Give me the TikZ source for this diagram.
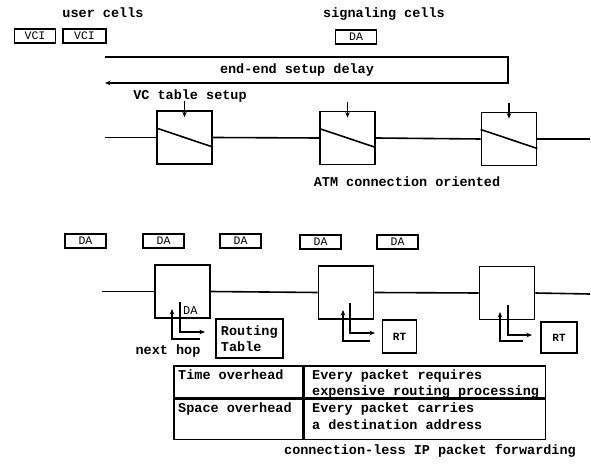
\documentclass[tikz,border=0pt]{standalone}
\usepackage{fontspec}
\setmonofont{Liberation Mono}
\usetikzlibrary{arrows.meta,calc}
\begin{document}
\begin{tikzpicture}[x=1pt,y=-1pt,
  every node/.style={font=\ttfamily\bfseries\fontsize{13.5}{16}\selectfont},
  lbl/.style={inner sep=0pt},
  cellbox/.style={draw,line width=1.7pt,minimum width=41pt,minimum height=14pt,inner sep=0pt,
    font=\ttfamily\fontsize{11.5}{12}\selectfont},
  switchbox/.style={draw,line width=1.7pt,minimum width=55pt,minimum height=53pt,inner sep=0pt},
  rtbox/.style={draw,line width=1.7pt,inner sep=0pt,minimum width=34pt,minimum height=33pt,
    font=\ttfamily\bfseries\fontsize{11}{12}\selectfont},
  tcell/.style={draw,line width=1.6pt,inner sep=0pt,anchor=north west},
  wire/.style={line width=1.6pt},
  arr/.style={line width=1.6pt,-{Stealth[length=5.5pt,width=4.5pt]}}
]
\useasboundingbox (0,0) rectangle (591,470);

% ---------- top: ATM ----------
\node[lbl] (uc) at (103,13) {user cells};
\node[cellbox] (v1) at (35,36) {VCI};
\node[cellbox,minimum width=43pt] (v2) at (84.5,36) {VCI};
\node[lbl] (sc) at (384,14) {signaling cells};
\node[cellbox] (sda) at (356,37) {DA};

\coordinate (d1) at (105,57);
\coordinate (d2) at (508,57);
\coordinate (d3) at (508,83);
\coordinate (d4) at (105,83);
\draw[arr] (d1) -- (d2) -- (d3) -- (d4);
\node[lbl] (dl) at (297,70) {end-end setup delay};

\node[lbl] (vct) at (190,96) {VC table setup};

\node[switchbox] (a1) at (184.5,137.5) {};
\node[switchbox] (a2) at (347.5,138) {};
\node[switchbox] (a3) at (509,139) {};
\coordinate (aL) at (105,137.5);
\coordinate (aR) at (590,139);
\draw[wire] (aL) -- (a1.west);
\draw[wire] (a1.east) -- (a2.west);
\draw[wire] (a2.east) -- (a3.west);
\draw[wire] (a3.east) -- (aR);
\foreach \i in {1,2,3}{
  \draw[wire] ($(a\i.west)+(0,-9.5)$) -- ($(a\i.east)+(0,9.5)$);
  \coordinate (at\i) at ($(a\i.north)+(0,-9)$);
  \coordinate (ab\i) at ($(a\i.north)+(0,7)$);
  \draw[arr] (at\i) -- (ab\i);
}
\node[lbl] (atm) at (407,182) {ATM connection oriented};

% ---------- bottom: IP ----------
\node[cellbox] (p1) at (85.5,241) {DA};
\node[cellbox] (p2) at (163.5,241) {DA};
\node[cellbox] (p3) at (240.5,241) {DA};
\node[cellbox] (p4) at (320.5,242) {DA};
\node[cellbox] (p5) at (397.5,242) {DA};

\node[switchbox] (b1) at (182.5,291.5) {};
\node[switchbox] (b2) at (346,292.5) {};
\node[switchbox] (b3) at (507,293) {};
\coordinate (bL) at (102,291.5);
\coordinate (bR) at (590,294);
\draw[wire] (bL) -- (b1.west);
\draw[wire] (b1.east) -- (b2.west);
\draw[wire] (b2.east) -- (b3.west);
\draw[wire] (b3.east) -- (bR);

% switch 1
\coordinate (i1s) at (180,302); \coordinate (i1e) at (205,332);
\draw[arr] (i1s) |- (i1e);
\coordinate (o1s) at (200,339); \coordinate (o1e) at (172,309);
\draw[arr] (o1s) -| (o1e);
\node[lbl,anchor=west,font=\ttfamily\fontsize{12}{12}\selectfont] (da) at (183,311) {DA};
\node[draw,line width=1.7pt,inner sep=0pt,align=left,minimum width=67pt,minimum height=39pt,anchor=north west] (rt1) at (215,318) {Routing\\Table};
\node[lbl] (nh) at (168,351) {next hop};

% switch 2
\coordinate (i2s) at (350,303); \coordinate (i2e) at (375,333);
\draw[arr] (i2s) |- (i2e);
\coordinate (o2s) at (370,341); \coordinate (o2e) at (343,310);
\draw[arr] (o2s) -| (o2e);
\node[rtbox] (rt2) at (399.5,336.5) {RT};

% switch 3
\coordinate (i3s) at (508,305); \coordinate (i3e) at (532,335);
\draw[arr] (i3s) |- (i3e);
\coordinate (o3s) at (523,341); \coordinate (o3e) at (500,312);
\draw[arr] (o3s) -| (o3e);
\node[rtbox,minimum width=36pt,minimum height=31pt] (rt3) at (559,337.5) {RT};

% table
\node[tcell,minimum width=129pt,minimum height=32pt] (c11) at (173,365) {};
\node[tcell,minimum width=241pt,minimum height=32pt] (c12) at (c11.north east) {};
\node[tcell,minimum width=129pt,minimum height=40pt] (c21) at (c11.south west) {};
\node[tcell,minimum width=241pt,minimum height=40pt] (c22) at (c21.north east) {};

\node[lbl,anchor=base west] (t1) at (178,379) {Time overhead};
\node[lbl,anchor=base west] (t2) at (312,379) {Every packet requires};
\node[lbl,anchor=base west] (t3) at (312,395) {expensive routing processing};
\node[lbl,anchor=base west] (t4) at (178,412) {Space overhead};
\node[lbl,anchor=base west] (t5) at (312,412) {Every packet carries};
\node[lbl,anchor=base west] (t6) at (312,429) {a destination address};

\node[lbl] (cl) at (430,451) {connection-less IP packet forwarding};
\end{tikzpicture}
\end{document}
